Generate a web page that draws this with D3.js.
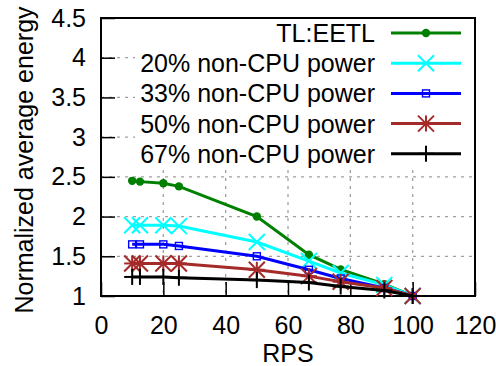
<!DOCTYPE html>
<html>
<head>
<meta charset="utf-8">
<script src="https://cdn.jsdelivr.net/npm/d3@7"></script>
<style>
  body { margin: 0; background: #fff; }
  svg { display: block; font-family: "Liberation Sans", Arial, sans-serif; }
</style>
</head>
<body>
<svg id="chart" width="496" height="366"></svg>
<script>
// RPS values (x) shared by every series
const rps = [10, 12.5, 20, 25, 50, 66.7, 76.9, 90.9, 100]

// normalized average energy per series
const eetl = [2.45, 2.44, 2.42, 2.38, 2.0, 1.52, 1.335, 1.15, 1.0]
const nonCpu20 = [1.89, 1.89, 1.89, 1.88, 1.68, 1.44, 1.29, 1.14, 1.0]
const nonCpu33 = [1.65, 1.65, 1.65, 1.63, 1.5, 1.33, 1.22, 1.1, 1.0]
const nonCpu50 = [1.41, 1.41, 1.41, 1.41, 1.33, 1.25, 1.18, 1.1, 1.0]
const nonCpu67 = [1.24, 1.24, 1.24, 1.23, 1.2, 1.17, 1.12, 1.07, 1.0]

const seriesNames = ["TL:EETL", "20% non-CPU power", "33% non-CPU power", "50% non-CPU power", "67% non-CPU power"]
const seriesColors = ["#008000", "#00ffff", "#0000ff", "#a52a2a", "#000000"]
const seriesMarkers = ["circle", "x", "square", "star", "plus"]

const xTicks = [0, 20, 40, 60, 80, 100, 120]
const yTicks = [1, 1.5, 2, 2.5, 3, 3.5, 4, 4.5]

const series = [eetl, nonCpu20, nonCpu33, nonCpu50, nonCpu67].map((vals, i) => ({
  name: seriesNames[i],
  color: seriesColors[i],
  marker: seriesMarkers[i],
  points: vals.map((v, j) => ({ x: rps[j], y: v }))
}))

const svg = d3.select("#chart")
const plotLeft = 101, plotRight = 475, plotTop = 18, plotBottom = 296
const fontSize = "25px"

const x = d3.scaleLinear().domain([0, 120]).range([plotLeft, plotRight])
const y = d3.scaleLinear().domain([1, 4.5]).range([plotBottom, plotTop])

// grid
const grid = svg.append("g")
grid.selectAll(".hg")
  .data(yTicks.filter((t) => t > 1 && t < 4.5))
  .enter()
  .append("line")
  .attr("x1", plotLeft).attr("x2", plotRight)
  .attr("y1", (d) => y(d)).attr("y2", (d) => y(d))
grid.selectAll(".vg")
  .data(xTicks.filter((t) => t > 0 && t < 120))
  .enter()
  .append("line")
  .attr("x1", (d) => x(d)).attr("x2", (d) => x(d))
  .attr("y1", plotTop).attr("y2", plotBottom)
grid.selectAll("line")
  .style("stroke", "#a0a0a0")
  .style("stroke-width", 1.3)
  .style("stroke-dasharray", "3,5")

// opaque legend background hides the grid
svg.append("rect")
  .attr("x", 135).attr("y", plotTop + 1)
  .attr("width", plotRight - 136).attr("height", 151)
  .style("fill", "#fff")

// axes, ticks point inward
const xAxis = d3.axisBottom(x).tickValues(xTicks).tickSize(-14).tickSizeOuter(0).tickPadding(20)
const yAxis = d3.axisLeft(y).tickValues(yTicks).tickSize(-14).tickSizeOuter(0).tickPadding(15)
  .tickFormat((d) => String(d))

const gx = svg.append("g").attr("transform", `translate(0,${plotBottom})`).call(xAxis)
const gy = svg.append("g").attr("transform", `translate(${plotLeft},0)`).call(yAxis)
gx.select(".domain").remove()
gy.select(".domain").remove()
svg.selectAll(".tick line").style("stroke", "#000").style("stroke-width", 1.5)
svg.selectAll(".tick text")
  .style("font-size", fontSize)
  .style("fill", "#000")
  .style("font-family", "Liberation Sans, Arial, sans-serif")

svg.append("rect")
  .attr("x", plotLeft).attr("y", plotTop)
  .attr("width", plotRight - plotLeft).attr("height", plotBottom - plotTop)
  .style("fill", "none").style("stroke", "#000").style("stroke-width", 2)

// axis titles
svg.append("text")
  .attr("x", (plotLeft + plotRight) / 2).attr("y", 362)
  .attr("text-anchor", "middle")
  .style("font-size", fontSize)
  .text("RPS")
svg.append("text")
  .attr("transform", `translate(33,${(plotTop + plotBottom) / 2 + 3}) rotate(-90)`)
  .attr("text-anchor", "middle")
  .style("font-size", fontSize)
  .text("Normalized average energy")

// marker drawing helper
function drawMarker(g, type, color, cx, cy) {
  if (type === "circle") {
    g.append("circle").attr("cx", cx).attr("cy", cy).attr("r", 4.2).style("fill", color)
  } else if (type === "square") {
    g.append("rect").attr("x", cx - 3.5).attr("y", cy - 3.5).attr("width", 7).attr("height", 7)
      .style("fill", "none").style("stroke", color).style("stroke-width", 1.4)
  } else {
    const s = 8
    let segs = []
    if (type === "x" || type === "star") segs.push([-s, -s, s, s], [-s, s, s, -s])
    if (type === "plus" || type === "star") segs.push([-s, 0, s, 0], [0, -s, 0, s])
    segs.forEach((p) => {
      g.append("line")
        .attr("x1", cx + p[0]).attr("y1", cy + p[1])
        .attr("x2", cx + p[2]).attr("y2", cy + p[3])
        .style("stroke", color).style("stroke-width", 2)
    })
  }
}

const line = d3.line().x((d) => x(d.x)).y((d) => y(d.y))

series.forEach((s) => {
  const g = svg.append("g")
  g.append("path")
    .datum(s.points)
    .attr("d", line)
    .style("fill", "none")
    .style("stroke", s.color)
    .style("stroke-width", 3)
  s.points.forEach((p) => drawMarker(g, s.marker, s.color, x(p.x), y(p.y)))
})

// legend
const legend = svg.append("g")
series.forEach((s, i) => {
  const ly = 33 + i * 30.2
  legend.append("text")
    .attr("x", 375).attr("y", ly + 9)
    .attr("text-anchor", "end")
    .style("font-size", fontSize)
    .text(s.name)
  legend.append("line")
    .attr("x1", 391).attr("x2", 461)
    .attr("y1", ly).attr("y2", ly)
    .style("stroke", s.color).style("stroke-width", 3)
  drawMarker(legend, s.marker, s.color, 426, ly)
})
</script>
</body>
</html>
